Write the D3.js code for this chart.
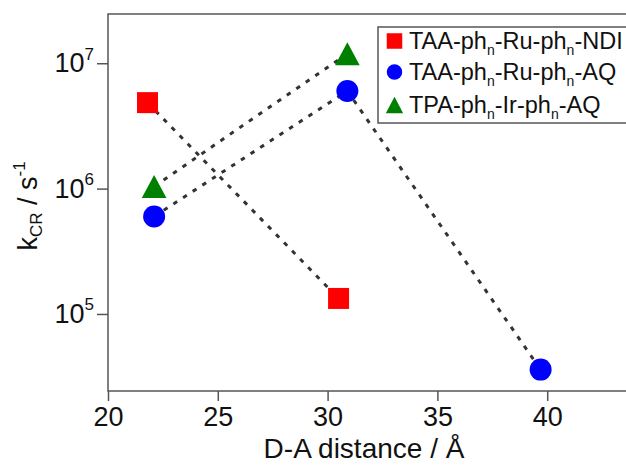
<!DOCTYPE html>
<html>
<head>
<meta charset="utf-8">
<script src="https://cdn.jsdelivr.net/npm/d3@7"></script>
<style>
  body { margin: 0; background: #fff; }
  svg { display: block; font-family: Arial, "Liberation Sans", sans-serif; }
</style>
</head>
<body>
<svg width="626" height="470"></svg>
<script>
// Data (distance in Å, rate in s^-1)
const seriesNames = ["TAA-ph|n|-Ru-ph|n|-NDI", "TAA-ph|n|-Ru-ph|n|-AQ", "TPA-ph|n|-Ir-ph|n|-AQ"];
const ndiX = [21.8, 30.5];
const ndiY = [4.85e6, 1.33e5];
const aqRuX = [22.1, 30.9, 39.7];
const aqRuY = [6.0e5, 6.0e6, 3.6e4];
const aqIrX = [22.1, 30.9];
const aqIrY = [1.04e6, 1.19e7];
const xTicks = [20, 25, 30, 35, 40];
const yTicks = [1e5, 1e6, 1e7];

const series = [
  { name: seriesNames[0], xs: ndiX, ys: ndiY, color: "#ff0000", shape: "square" },
  { name: seriesNames[1], xs: aqRuX, ys: aqRuY, color: "#0000ff", shape: "circle" },
  { name: seriesNames[2], xs: aqIrX, ys: aqIrY, color: "#008000", shape: "triangle" }
];

const svg = d3.select("svg");
const plotLeft = 108, plotTop = 14, plotBottom = 391;

const x = d3.scaleLinear().domain([20, 44]).range([plotLeft, plotLeft + 24 * 21.96]);
const y = d3.scaleLog().domain([2.43e4, 2.47e7]).range([plotBottom, plotTop]);

const axisColor = "#555";

// frame: left, top, bottom (right side runs off the picture)
svg.append("path")
  .attr("d", `M640,${plotTop}H${plotLeft}V${plotBottom}H640`)
  .attr("fill", "none")
  .attr("stroke", axisColor)
  .attr("stroke-width", 1.5);

// x axis
const gx = svg.append("g")
  .attr("transform", `translate(0,${plotBottom})`)
  .call(d3.axisBottom(x).tickValues(xTicks).tickSize(10).tickPadding(6).tickSizeOuter(0));
gx.select(".domain").remove();
gx.selectAll("line").attr("stroke", axisColor).attr("stroke-width", 1.5);
gx.selectAll("text").attr("font-size", 27).attr("fill", "#111").attr("font-family", null);

// y axis
const gy = svg.append("g")
  .attr("transform", `translate(${plotLeft},0)`)
  .call(d3.axisLeft(y).tickValues(yTicks).tickSize(11).tickPadding(3));
gy.select(".domain").remove();
gy.selectAll("line").attr("stroke", axisColor).attr("stroke-width", 1.5);
gy.selectAll("text")
  .attr("font-size", 27).attr("fill", "#111").attr("font-family", null)
  .text(null)
  .each(function(d) {
    const t = d3.select(this);
    t.append("tspan").text("10");
    t.append("tspan").attr("font-size", 17).attr("dy", "-0.75em").text(Math.round(Math.log10(d)));
  });

// axis titles
svg.append("text")
  .attr("x", (plotLeft + 626) / 2 - 3)
  .attr("y", 458)
  .attr("text-anchor", "middle")
  .attr("font-size", 28)
  .attr("fill", "#111")
  .text("D-A distance / Å");

const yt = svg.append("text")
  .attr("transform", "translate(37,206) rotate(-90)")
  .attr("text-anchor", "middle")
  .attr("font-size", 27)
  .attr("fill", "#111");
yt.append("tspan").text("k");
yt.append("tspan").attr("font-size", 17).attr("dy", 5).text("CR");
yt.append("tspan").attr("dy", -5).text(" / s");
yt.append("tspan").attr("font-size", 17).attr("dy", -12).text("-1");

// dotted connecting lines
const line = d3.line().x(d => x(d[0])).y(d => y(d[1]));
series.forEach(s => {
  svg.append("path")
    .attr("d", line(s.xs.map((v, i) => [v, s.ys[i]])))
    .attr("fill", "none")
    .attr("stroke", "#333")
    .attr("stroke-width", 3)
    .attr("stroke-dasharray", "4.5,7");
});

// markers
function marker(g, shape, cx, cy, size, color) {
  if (shape === "square") {
    g.append("rect").attr("x", cx - size / 2).attr("y", cy - size / 2)
      .attr("width", size).attr("height", size).attr("fill", color);
  } else if (shape === "circle") {
    g.append("circle").attr("cx", cx).attr("cy", cy).attr("r", size / 2).attr("fill", color);
  } else {
    const w = size * 1.12, h = size * 1.05;
    g.append("path")
      .attr("d", `M${cx},${cy - h / 2}L${cx + w / 2},${cy + h / 2}L${cx - w / 2},${cy + h / 2}Z`)
      .attr("fill", color);
  }
}

const sizes = { square: 21, circle: 22, triangle: 22 };
series.forEach(s => {
  const g = svg.append("g");
  s.xs.forEach((v, i) => marker(g, s.shape, x(v), y(s.ys[i]), sizes[s.shape], s.color));
});

// legend
const lg = svg.append("g");
lg.append("rect")
  .attr("x", 378).attr("y", 27).attr("width", 300).attr("height", 96)
  .attr("fill", "#fff").attr("stroke", axisColor).attr("stroke-width", 1.5);
const rowY = [41, 72, 105];
series.forEach((s, i) => {
  marker(lg, s.shape, 394.5, rowY[i], 15.5, s.color);
  const t = lg.append("text")
    .attr("x", 409).attr("y", rowY[i] + 8)
    .attr("font-size", 23.5).attr("fill", "#111");
  s.name.split("|").forEach((part, k) => {
    if (k % 2 === 1) {
      t.append("tspan").attr("font-size", 14).attr("dy", 6).text(part);
    } else {
      t.append("tspan").attr("dy", k === 0 ? 0 : -6).text(part);
    }
  });
});
</script>
</body>
</html>
